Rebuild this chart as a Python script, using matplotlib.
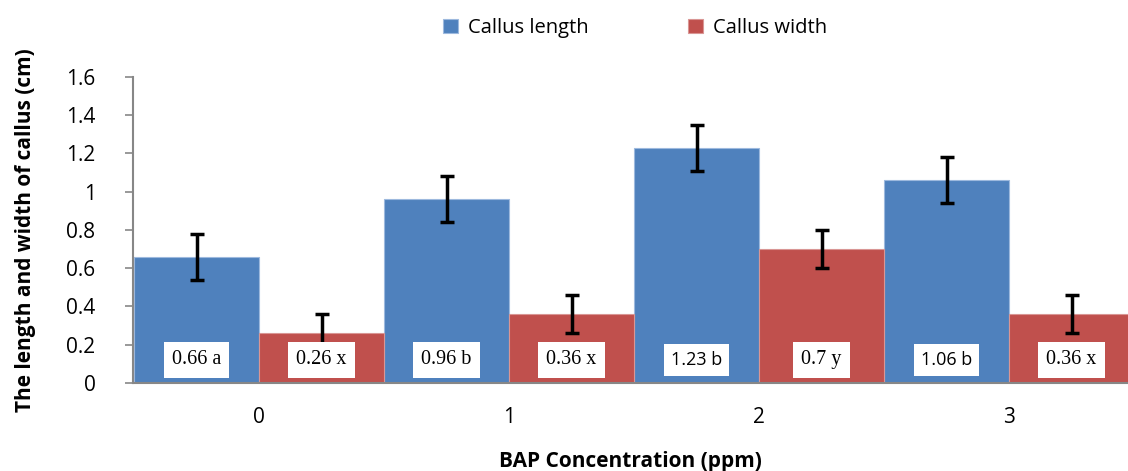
import numpy as np
import matplotlib.pyplot as plt

# data
conc = ["0", "1", "2", "3"]
length = [0.66, 0.96, 1.23, 1.06]
width = [0.26, 0.36, 0.70, 0.36]
length_err = [0.12, 0.12, 0.12, 0.12]
width_err = [0.10, 0.10, 0.10, 0.10]
length_lbl = ["0.66 a", "0.96 b", "1.23 b", "1.06 b"]
width_lbl = ["0.26 x", "0.36 x", "0.7 y", "0.36 x"]

BLUE = "#4F81BD"
RED = "#C0504D"
SANS = ["Open Sans", "DejaVu Sans"]
SERIF = ["Liberation Serif", "DejaVu Serif"]

fig = plt.figure(figsize=(11.28, 4.71), dpi=100)
ax = fig.add_axes([0.118, 0.187, 0.882, 0.650])

x = np.arange(len(conc))
bw = 0.5
b1 = ax.bar(x - bw / 2, length, bw, color=BLUE, edgecolor="#9DB9DE", linewidth=0.8,
            label="Callus length", zorder=2)
b2 = ax.bar(x + bw / 2, width, bw, color=RED, edgecolor="#D99694", linewidth=0.8,
            label="Callus width", zorder=2)

ax.errorbar(x - bw / 2, length, yerr=length_err, fmt="none", ecolor="black",
            elinewidth=2.5, capsize=4.8, capthick=2.5, zorder=3)
ax.errorbar(x + bw / 2, width, yerr=width_err, fmt="none", ecolor="black",
            elinewidth=2.5, capsize=4.8, capthick=2.5, zorder=3)

# value / letter boxes
for i in range(len(conc)):
    fam = SANS if length_lbl[i] in ("1.23 b", "1.06 b") else SERIF
    ax.text(x[i] - bw / 2, 0.12, length_lbl[i], ha="center", va="center",
            fontsize=14.5 if fam is SERIF else 13, family=fam, zorder=4,
            bbox=dict(boxstyle="square,pad=0.4", fc="white", ec="none"))
    ax.text(x[i] + bw / 2, 0.12, width_lbl[i], ha="center", va="center",
            fontsize=14.5, family=SERIF, zorder=4,
            bbox=dict(boxstyle="square,pad=0.4", fc="white", ec="none"))

ax.set_xlim(-0.504, 3.476)
ax.set_ylim(0, 1.6)
ax.set_yticks(np.arange(0, 1.61, 0.2))
ax.set_yticklabels(["0", "0.2", "0.4", "0.6", "0.8", "1", "1.2", "1.4", "1.6"],
                   family=SANS, fontsize=15)
ax.set_xticks(x)
ax.set_xticklabels(conc, family=SANS, fontsize=15)
ax.tick_params(axis="x", length=0, pad=17)
ax.tick_params(axis="y", length=6, color="#878787", width=1.2, pad=21)

for s in ("top", "right"):
    ax.spines[s].set_visible(False)
for s in ("left", "bottom"):
    ax.spines[s].set_color("#878787")
    ax.spines[s].set_linewidth(1.5)

ax.set_xlabel("BAP Concentration (ppm)", family=SANS, fontsize=15,
              fontweight="bold", labelpad=17)
ax.set_ylabel("The length and width of callus (cm)", family=SANS, fontsize=15,
              fontweight="bold", labelpad=22)

leg = fig.legend(handles=[b1, b2], loc="upper center", bbox_to_anchor=(0.563, 1.0),
                 ncol=2, frameon=False, prop={"family": SANS, "size": 14.5},
                 handlelength=0.75, handleheight=0.75, columnspacing=4.9, handletextpad=0.5)

fig.savefig("out.png", dpi=100)
